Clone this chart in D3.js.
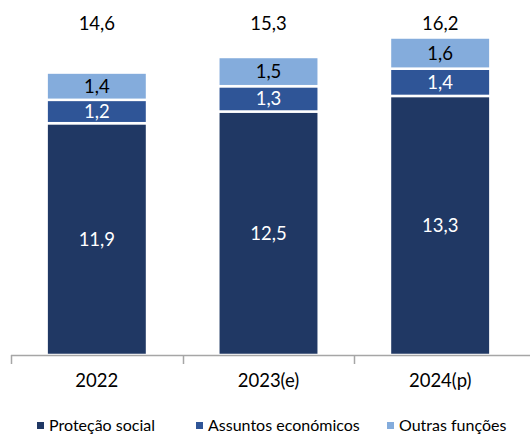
<!DOCTYPE html>
<meta charset="utf-8">
<script src="https://cdn.jsdelivr.net/npm/d3@7"></script>
<html>
<head>
<style>
body { margin: 0; background: #fff; }
text { font-family: Lato, "Open Sans", sans-serif; }
</style>
</head>
<body>
<div id="chart"></div>
<script>

// dados
var anos = ["2022", "2023(e)", "2024(p)"];
var series = ["Proteção social", "Assuntos económicos", "Outras funções"];
var protecao = [11.9, 12.5, 13.3];
var assuntos = [1.2, 1.3, 1.4];
var outras = [1.4, 1.5, 1.6];
var totais = ["14,6", "15,3", "16,2"];

var cores = ["#203864", "#2f5597", "#84acdc"];
var corTexto = ["#ffffff", "#ffffff", "#000000"];

var W = 530, H = 434;
var base = 355;

var svg = d3.select("#chart")
  .append("svg")
    .attr("width", W)
    .attr("height", H);

// tabela para o stack
var tabela = anos.map(function(a, i) {
  return {ano: a, s0: protecao[i], s1: assuntos[i], s2: outras[i]};
});
var pilha = d3.stack().keys(["s0", "s1", "s2"])(tabela);

var x = d3.scaleBand()
  .domain(anos)
  .range([11, 526])
  .paddingInner(0.415)
  .paddingOuter(0.2075);

var y = d3.scaleLinear()
  .domain([0, 16.3])
  .range([base, 37.5]);

// barras
var grupos = svg.selectAll(".serie")
  .data(pilha)
  .enter().append("g")
    .attr("fill", function(d, i) { return cores[i]; });

grupos.selectAll("rect")
  .data(function(d) { return d; })
  .enter().append("rect")
    .attr("x", function(d) { return x(d.data.ano); })
    .attr("width", x.bandwidth())
    .attr("y", function(d) { return y(d[1]); })
    .attr("height", function(d) { return y(d[0]) - y(d[1]); })
    .attr("stroke", "#fff")
    .attr("stroke-width", 2.5);

// rotulos dentro das barras
pilha.forEach(function(s, k) {
  svg.selectAll(".rot" + k)
    .data(s)
    .enter().append("text")
      .attr("x", function(d) { return x(d.data.ano) + x.bandwidth() / 2; })
      .attr("y", function(d) { return (y(d[0]) + y(d[1])) / 2; })
      .attr("dy", "0.35em")
      .attr("text-anchor", "middle")
      .style("font-size", "18.5px")
      .attr("fill", corTexto[k])
      .text(function(d) { return (Math.round((d[1] - d[0]) * 10) / 10).toFixed(1).replace(".", ","); });
});

// totais
svg.selectAll(".total")
  .data(anos)
  .enter().append("text")
    .attr("x", function(d) { return x(d) + x.bandwidth() / 2; })
    .attr("y", 24)
    .attr("dy", "0.35em")
    .attr("text-anchor", "middle")
    .style("font-size", "18.5px")
    .attr("fill", "#000")
    .text(function(d, i) { return totais[i]; });

// eixo x
var eixo = svg.append("g");
eixo.append("line")
  .attr("x1", 11).attr("x2", 530)
  .attr("y1", base + 0.5).attr("y2", base + 0.5)
  .attr("stroke", "#a6a6a6").attr("stroke-width", 1.5);
[0, 1, 2].forEach(function(i) {
  var tx = Math.round(11 + i * (515 / 3)) + 0.5;
  eixo.append("line")
    .attr("x1", tx).attr("x2", tx)
    .attr("y1", base).attr("y2", base + 9)
    .attr("stroke", "#a6a6a6").attr("stroke-width", 1.5);
});
eixo.selectAll(".cat")
  .data(anos)
  .enter().append("text")
    .attr("x", function(d) { return x(d) + x.bandwidth() / 2; })
    .attr("y", 381)
    .attr("dy", "0.35em")
    .attr("text-anchor", "middle")
    .style("font-size", "18.5px")
    .attr("fill", "#000")
    .text(function(d) { return d; });

// legenda
var legX = [37, 196, 387];
var leg = svg.selectAll(".leg")
  .data(series)
  .enter().append("g")
    .attr("transform", function(d, i) { return "translate(" + legX[i] + ",425)"; });
leg.append("rect")
  .attr("x", 0).attr("y", -3)
  .attr("width", 7).attr("height", 7)
  .attr("fill", function(d, i) { return cores[i]; });
leg.append("text")
  .attr("x", 12)
  .attr("dy", "0.35em")
  .style("font-size", "16px")
  .attr("fill", "#000")
  .text(function(d) { return d; });

</script>
</body>
</html>
